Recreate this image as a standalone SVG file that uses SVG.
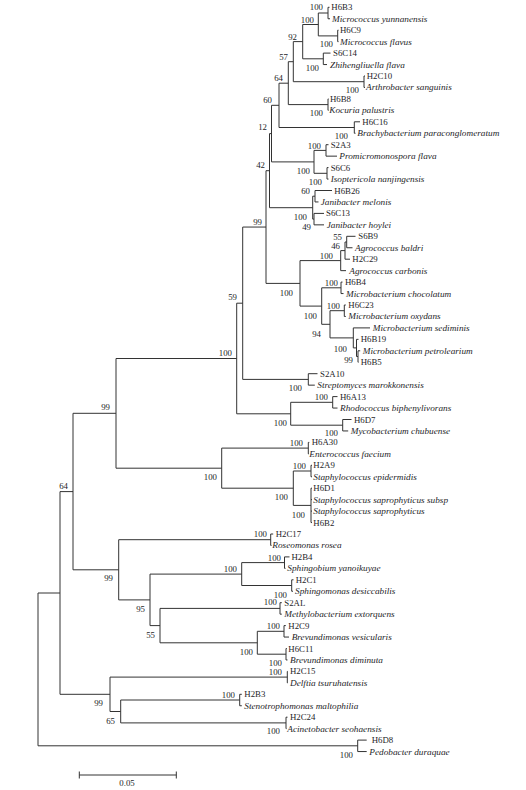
<svg xmlns="http://www.w3.org/2000/svg" width="526" height="790" viewBox="0 0 526 790">
<style>
text{font-family:"Liberation Serif","Times New Roman",serif;fill:#1e1e28}
.s{font-size:8.8px}
.i{font-size:9.25px;font-style:italic}
.b{font-size:8.8px;text-anchor:end}
.e{fill:none;stroke:#333;stroke-width:1}
</style>
<rect width="526" height="790" fill="#fff"/>
<g id="connectors" class="e">
<path d="M329.5 7.3H328V18.75H330"/>
<path d="M338.5 30.2H337.7V41.65H338.5"/>
<path d="M328 13H318.3V35.9H337.7"/>
<path d="M330.5 53.1H323.3V64.55H327"/>
<path d="M318.3 24.5H302.7V58.8H323.3"/>
<path d="M365 76H364V87.45H365"/>
<path d="M302.7 41.6H293.3V81.7H364"/>
<path d="M328.5 98.9H328V110.35H328.5"/>
<path d="M293.3 61.7H288.3V104.6H328"/>
<path d="M360 121.8H354.3V133.25H355.5"/>
<path d="M288.3 83.2H279V127.5H354.3"/>
<path d="M328.5 144.7H326V156.15H337"/>
<path d="M328.5 167.6H327V179.05H328.5"/>
<path d="M326 150.4H314V173.3H327"/>
<path d="M279 105.3H271.5V161.9H314"/>
<path d="M332 190.5H315V201.95H318.5"/>
<path d="M324 213.4H314V224.85H324"/>
<path d="M315 196.2H312.7V219.1H314"/>
<path d="M271.5 133.6H269.5V207.7H312.7"/>
<path d="M355.5 236.3H346.7V247.75H352.5"/>
<path d="M346.7 242H345V259.2H350"/>
<path d="M345 250.6H340.7V270.65H346"/>
<path d="M342.5 282.1H341V293.55H343.5"/>
<path d="M345.8 305H344.3V316.45H345.8"/>
<path d="M360.2 350.8H358V362.25H358.5"/>
<path d="M358.5 339.35H356.5V356.5H358"/>
<path d="M370 327.9H353.3V347.9H356.5"/>
<path d="M344.3 310.7H330V337.9H353.3"/>
<path d="M341 287.8H321.7V324.3H330"/>
<path d="M340.7 260.6H300V306.1H321.7"/>
<path d="M269.5 170.7H266V283.4H300"/>
<path d="M317.5 373.7H308.3V385.15H314.8"/>
<path d="M266 227.05H242.7V379.4H308.3"/>
<path d="M337.5 396.6H332.7V408.05H337.5"/>
<path d="M351.5 419.5H342.7V430.95H348.2"/>
<path d="M332.7 402.3H290.7V425.2H342.7"/>
<path d="M242.7 303.2H236.7V413.8H290.7"/>
<path d="M309.3 442.4H308.3V453.85H309"/>
<path d="M312 465.3H311V476.75H312"/>
<path d="M312 488.2H311V522.55H312M311 499.65H312M311 511.1H312"/>
<path d="M311 471H293.3V505.4H311"/>
<path d="M308.3 448.1H221.7V488.2H293.3"/>
<path d="M236.7 358.5H116V468.2H221.7"/>
<path d="M273.2 534H270.7V545.45H271.5"/>
<path d="M289.5 556.9H284.5V568.35H285.5"/>
<path d="M293.5 579.8H291.7V591.25H293"/>
<path d="M284.5 562.6H241.7V585.5H291.7"/>
<path d="M281.8 602.7H280V614.15H281.8"/>
<path d="M285.8 625.6H284V637.05H289"/>
<path d="M286.8 648.5H286V659.95H287.5"/>
<path d="M284 631.3H257.3V654.2H286"/>
<path d="M280 608.4H160V642.8H257.3"/>
<path d="M241.7 574.1H150V625.6H160"/>
<path d="M270.7 539.7H118.7V599.9H150"/>
<path d="M116 413.3H73V569.8H118.7"/>
<path d="M287.8 671.4H287.3V682.85H287.8"/>
<path d="M241.8 694.3H239.7V705.75H241.8"/>
<path d="M287.5 717.2H286V728.65H286.5"/>
<path d="M239.7 700H120.7V722.9H286"/>
<path d="M287.3 677.1H110V711.5H120.7"/>
<path d="M73 491.6H60V694.3H110"/>
<path d="M366.7 740.1H357.7V751.55H366.7"/>
<path d="M60 593H38V745.8H357.7"/>
</g>
<g id="scale-bar">
<path class="e" d="M79.3 775H176.3M79.3 771.5V778.5M176.3 771.5V778.5"/>
<text class="s" x="127" y="785.5" text-anchor="middle">0.05</text>
</g>
<g id="leaf-H6B3"><text class="s" x="331.3" y="10.3">H6B3</text></g>
<g id="leaf-Micrococcus-yunnanensis"><text class="i" x="332" y="21.75">Micrococcus yunnanensis</text></g>
<g id="leaf-H6C9"><text class="s" x="340" y="33.2">H6C9</text></g>
<g id="leaf-Micrococcus-flavus"><text class="i" x="340" y="44.65">Micrococcus flavus</text></g>
<g id="leaf-S6C14"><text class="s" x="333" y="56.1">S6C14</text></g>
<g id="leaf-Zhihengliuella-flava"><text class="i" x="330" y="67.55">Zhihengliuella flava</text></g>
<g id="leaf-H2C10"><text class="s" x="366.7" y="79">H2C10</text></g>
<g id="leaf-Arthrobacter-sanguinis"><text class="i" x="366" y="90.45">Arthrobacter sanguinis</text></g>
<g id="leaf-H6B8"><text class="s" x="330" y="101.9">H6B8</text></g>
<g id="leaf-Kocuria-palustris"><text class="i" x="329.3" y="113.35">Kocuria palustris</text></g>
<g id="leaf-H6C16"><text class="s" x="362.3" y="124.8">H6C16</text></g>
<g id="leaf-Brachybacterium-paraconglomeratum"><text class="i" x="357.3" y="136.25">Brachybacterium paraconglomeratum</text></g>
<g id="leaf-S2A3"><text class="s" x="330.7" y="147.7">S2A3</text></g>
<g id="leaf-Promicromonospora-flava"><text class="i" x="339.3" y="159.15">Promicromonospora flava</text></g>
<g id="leaf-S6C6"><text class="s" x="330.7" y="170.6">S6C6</text></g>
<g id="leaf-Isoptericola-nanjingensis"><text class="i" x="330.7" y="182.05">Isoptericola nanjingensis</text></g>
<g id="leaf-H6B26"><text class="s" x="334.3" y="193.5">H6B26</text></g>
<g id="leaf-Janibacter-melonis"><text class="i" x="320.7" y="204.95">Janibacter melonis</text></g>
<g id="leaf-S6C13"><text class="s" x="326" y="216.4">S6C13</text></g>
<g id="leaf-Janibacter-hoylei"><text class="i" x="326.7" y="227.85">Janibacter hoylei</text></g>
<g id="leaf-S6B9"><text class="s" x="358.3" y="239.3">S6B9</text></g>
<g id="leaf-Agrococcus-baldri"><text class="i" x="355" y="250.75">Agrococcus baldri</text></g>
<g id="leaf-H2C29"><text class="s" x="352.3" y="262.2">H2C29</text></g>
<g id="leaf-Agrococcus-carbonis"><text class="i" x="349.3" y="273.65">Agrococcus carbonis</text></g>
<g id="leaf-H6B4"><text class="s" x="345" y="285.1">H6B4</text></g>
<g id="leaf-Microbacterium-chocolatum"><text class="i" x="346" y="296.55">Microbacterium chocolatum</text></g>
<g id="leaf-H6C23"><text class="s" x="348.3" y="308">H6C23</text></g>
<g id="leaf-Microbacterium-oxydans"><text class="i" x="348.3" y="319.45">Microbacterium oxydans</text></g>
<g id="leaf-Microbacterium-sediminis"><text class="i" x="372.7" y="330.9">Microbacterium sediminis</text></g>
<g id="leaf-H6B19"><text class="s" x="360.7" y="342.35">H6B19</text></g>
<g id="leaf-Microbacterium-petrolearium"><text class="i" x="362.7" y="353.8">Microbacterium petrolearium</text></g>
<g id="leaf-H6B5"><text class="s" x="360.7" y="365.25">H6B5</text></g>
<g id="leaf-S2A10"><text class="s" x="320" y="376.7">S2A10</text></g>
<g id="leaf-Streptomyces-marokkonensis"><text class="i" x="317.3" y="388.15">Streptomyces marokkonensis</text></g>
<g id="leaf-H6A13"><text class="s" x="340" y="399.6">H6A13</text></g>
<g id="leaf-Rhodococcus-biphenylivorans"><text class="i" x="340" y="411.05">Rhodococcus biphenylivorans</text></g>
<g id="leaf-H6D7"><text class="s" x="354" y="422.5">H6D7</text></g>
<g id="leaf-Mycobacterium-chubuense"><text class="i" x="350.7" y="433.95">Mycobacterium chubuense</text></g>
<g id="leaf-H6A30"><text class="s" x="311.7" y="445.4">H6A30</text></g>
<g id="leaf-Enterococcus-faecium"><text class="i" x="309.3" y="456.85">Enterococcus faecium</text></g>
<g id="leaf-H2A9"><text class="s" x="313.3" y="468.3">H2A9</text></g>
<g id="leaf-Staphylococcus-epidermidis"><text class="i" x="313.3" y="479.75">Staphylococcus epidermidis</text></g>
<g id="leaf-H6D1"><text class="s" x="313.3" y="491.2">H6D1</text></g>
<g id="leaf-Staphylococcus-saprophyticus-subsp"><text class="i" x="313.3" y="502.65">Staphylococcus saprophyticus subsp</text></g>
<g id="leaf-Staphylococcus-saprophyticus"><text class="i" x="313.3" y="514.1">Staphylococcus saprophyticus</text></g>
<g id="leaf-H6B2"><text class="s" x="313.3" y="525.55">H6B2</text></g>
<g id="leaf-H2C17"><text class="s" x="275.7" y="537">H2C17</text></g>
<g id="leaf-Roseomonas-rosea"><text class="i" x="272.3" y="548.45">Roseomonas rosea</text></g>
<g id="leaf-H2B4"><text class="s" x="291.5" y="559.9">H2B4</text></g>
<g id="leaf-Sphingobium-yanoikuyae"><text class="i" x="287.3" y="571.35">Sphingobium yanoikuyae</text></g>
<g id="leaf-H2C1"><text class="s" x="295.7" y="582.8">H2C1</text></g>
<g id="leaf-Sphingomonas-desiccabilis"><text class="i" x="295" y="594.25">Sphingomonas desiccabilis</text></g>
<g id="leaf-S2AL"><text class="s" x="284.3" y="605.7">S2AL</text></g>
<g id="leaf-Methylobacterium-extorquens"><text class="i" x="284.3" y="617.15">Methylobacterium extorquens</text></g>
<g id="leaf-H2C9"><text class="s" x="288.3" y="628.6">H2C9</text></g>
<g id="leaf-Brevundimonas-vesicularis"><text class="i" x="291.7" y="640.05">Brevundimonas vesicularis</text></g>
<g id="leaf-H6C11"><text class="s" x="288.3" y="651.5">H6C11</text></g>
<g id="leaf-Brevundimonas-diminuta"><text class="i" x="290" y="662.95">Brevundimonas diminuta</text></g>
<g id="leaf-H2C15"><text class="s" x="290" y="674.4">H2C15</text></g>
<g id="leaf-Delftia-tsuruhatensis"><text class="i" x="290" y="685.85">Delftia tsuruhatensis</text></g>
<g id="leaf-H2B3"><text class="s" x="244.3" y="697.3">H2B3</text></g>
<g id="leaf-Stenotrophomonas-maltophilia"><text class="i" x="244.3" y="708.75">Stenotrophomonas maltophilia</text></g>
<g id="leaf-H2C24"><text class="s" x="290" y="720.2">H2C24</text></g>
<g id="leaf-Acinetobacter-seohaensis"><text class="i" x="287.3" y="731.65">Acinetobacter seohaensis</text></g>
<g id="leaf-H6D8"><text class="s" x="371.7" y="743.1">H6D8</text></g>
<g id="leaf-Pedobacter-duraquae"><text class="i" x="369.3" y="754.55">Pedobacter duraquae</text></g>
<g id="bootstrap-values">
<g id="n01"><text class="b" x="323" y="10.3">100</text></g>
<g id="n02"><text class="b" x="314" y="23">100</text></g>
<g id="n03"><text class="b" x="297" y="40">92</text></g>
<g id="n04"><text class="b" x="333" y="47">100</text></g>
<g id="n05"><text class="b" x="288" y="60">57</text></g>
<g id="n06"><text class="b" x="319" y="70.7">100</text></g>
<g id="n07"><text class="b" x="283" y="81">64</text></g>
<g id="n08"><text class="b" x="359" y="93">100</text></g>
<g id="n09"><text class="b" x="272" y="103">60</text></g>
<g id="n10"><text class="b" x="323" y="116">100</text></g>
<g id="n11"><text class="b" x="267" y="130">12</text></g>
<g id="n12"><text class="b" x="348" y="139">100</text></g>
<g id="n13"><text class="b" x="321" y="148.7">100</text></g>
<g id="n14"><text class="b" x="265" y="168">42</text></g>
<g id="n15"><text class="b" x="310" y="174">100</text></g>
<g id="n16"><text class="b" x="322" y="185">100</text></g>
<g id="n17"><text class="b" x="310" y="194">60</text></g>
<g id="n18"><text class="b" x="307" y="220">100</text></g>
<g id="n19"><text class="b" x="262" y="225">99</text></g>
<g id="n20"><text class="b" x="311" y="230">49</text></g>
<g id="n21"><text class="b" x="342" y="239.7">55</text></g>
<g id="n22"><text class="b" x="340" y="248.7">46</text></g>
<g id="n23"><text class="b" x="333" y="258.5">100</text></g>
<g id="n24"><text class="b" x="338" y="285.7">100</text></g>
<g id="n25"><text class="b" x="293" y="296">100</text></g>
<g id="n26"><text class="b" x="237" y="300">59</text></g>
<g id="n27"><text class="b" x="340" y="308.7">100</text></g>
<g id="n28"><text class="b" x="317" y="319">100</text></g>
<g id="n29"><text class="b" x="321" y="336.5">94</text></g>
<g id="n30"><text class="b" x="347" y="351.5">100</text></g>
<g id="n31"><text class="b" x="232" y="356">100</text></g>
<g id="n32"><text class="b" x="353" y="363">99</text></g>
<g id="n33"><text class="b" x="302" y="391">100</text></g>
<g id="n34"><text class="b" x="328" y="399.7">100</text></g>
<g id="n35"><text class="b" x="110" y="410">99</text></g>
<g id="n36"><text class="b" x="287" y="426">100</text></g>
<g id="n37"><text class="b" x="338" y="436">100</text></g>
<g id="n38"><text class="b" x="303" y="445.7">100</text></g>
<g id="n39"><text class="b" x="306" y="469">100</text></g>
<g id="n40"><text class="b" x="217" y="479.7">100</text></g>
<g id="n41"><text class="b" x="68" y="489">64</text></g>
<g id="n42"><text class="b" x="288" y="500">100</text></g>
<g id="n43"><text class="b" x="305" y="518">100</text></g>
<g id="n44"><text class="b" x="267" y="537">100</text></g>
<g id="n45"><text class="b" x="281" y="560.7">100</text></g>
<g id="n46"><text class="b" x="237" y="572">100</text></g>
<g id="n47"><text class="b" x="113" y="581">99</text></g>
<g id="n48"><text class="b" x="287" y="598">100</text></g>
<g id="n49"><text class="b" x="277" y="604.7">100</text></g>
<g id="n50"><text class="b" x="145" y="612">95</text></g>
<g id="n51"><text class="b" x="280" y="629">100</text></g>
<g id="n52"><text class="b" x="155" y="638">55</text></g>
<g id="n53"><text class="b" x="253" y="654.7">100</text></g>
<g id="n54"><text class="b" x="282" y="666">100</text></g>
<g id="n55"><text class="b" x="282" y="675">100</text></g>
<g id="n56"><text class="b" x="235" y="698">100</text></g>
<g id="n57"><text class="b" x="103" y="706">99</text></g>
<g id="n58"><text class="b" x="115" y="724">65</text></g>
<g id="n59"><text class="b" x="280" y="734">100</text></g>
<g id="n60"><text class="b" x="353" y="758">100</text></g>
</g>
</svg>
